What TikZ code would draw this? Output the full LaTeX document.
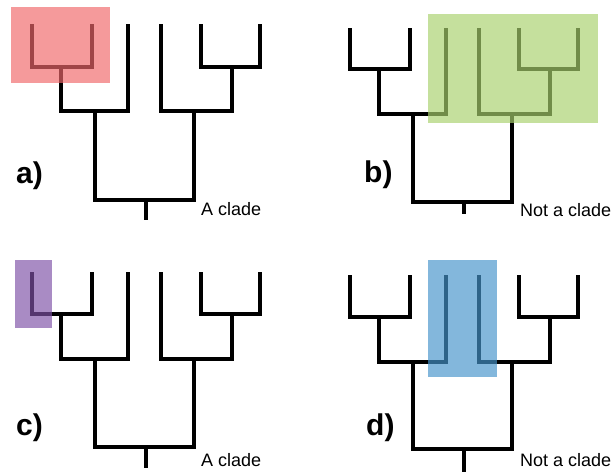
\documentclass[tikz,border=0pt]{standalone}
\usepackage{fontspec}
\setmainfont{Liberation Sans}

\definecolor{hlpink}{RGB}{240,104,106}
\definecolor{hlgreen}{RGB}{169,209,109}
\definecolor{hlpurple}{RGB}{127,82,167}
\definecolor{hlblue}{RGB}{70,148,203}

\tikzset{
  branch/.style={line width=3.4pt, line join=miter, black},
  highlight/.style={fill opacity=0.67, draw=none},
  caption/.style={anchor=base west, inner sep=0pt, font=\fontsize{18}{20}\selectfont},
  panel/.style={anchor=base west, inner sep=0pt, font=\fontsize{30}{32}\selectfont\bfseries},
}

% One six-leaf tree ((1,2),3),(4,(5,6)).
% #1 prefix, #2 horizontal shift, #3 tip row, #4 cherry row,
% #5 inner row, #6 root row, #7 end of the root stem
\newcommand\phylotree[7]{%
  \begin{scope}[xshift=#2]
    \coordinate (#1-t1) at (32,#3);
    \coordinate (#1-t2) at (92,#3);
    \coordinate (#1-t3) at (128,#3);
    \coordinate (#1-t4) at (161,#3);
    \coordinate (#1-t5) at (201,#3);
    \coordinate (#1-t6) at (260,#3);
    \coordinate (#1-p12) at (61,#4);
    \coordinate (#1-p56) at (232,#4);
    \coordinate (#1-m123) at (95,#5);
    \coordinate (#1-m456) at (194,#5);
    \coordinate (#1-r) at (146,#6);
    \coordinate (#1-base) at (146,#7);
    \draw[branch] (#1-t1) |- (#1-p12) -| (#1-t2);
    \draw[branch] (#1-t5) |- (#1-p56) -| (#1-t6);
    \draw[branch] (#1-p12) |- (#1-m123) -| (#1-t3);
    \draw[branch] (#1-t4) |- (#1-m456) -| (#1-p56);
    \draw[branch] (#1-m123) |- (#1-r) -| (#1-m456);
    \draw[branch] (#1-r) -- (#1-base);
  \end{scope}}

\begin{document}
\begin{tikzpicture}[x=1pt, y=-1pt]
  \useasboundingbox (0,0) rectangle (615,472);

  % trees
  \phylotree{a}{0}{24}{67}{111}{200}{220}
  \phylotree{b}{318}{28}{69}{114}{202}{214}
  \phylotree{c}{0}{272}{314}{359}{447}{468}
  \phylotree{d}{318}{275}{317}{362}{449}{472}

  % highlighted groups
  \fill[highlight, hlpink]   (11,7)    rectangle (110,83);
  \fill[highlight, hlgreen]  (428,14)  rectangle (598,123);
  \fill[highlight, hlpurple] (15,260)  rectangle (52,328);
  \fill[highlight, hlblue]   (428,260) rectangle (497,377);

  % panel letters
  \node[panel] (la) at (16,183)  {a)};
  \node[panel] (lb) at (364,182) {b)};
  \node[panel] (lc) at (16,435)  {c)};
  \node[panel] (ld) at (366,435) {d)};

  % captions
  \node[caption] (ca) at (201,215) {A clade};
  \node[caption] (cb) at (520,216) {Not a clade};
  \node[caption] (cc) at (201,466) {A clade};
  \node[caption] (cd) at (520,466) {Not a clade};
\end{tikzpicture}
\end{document}
